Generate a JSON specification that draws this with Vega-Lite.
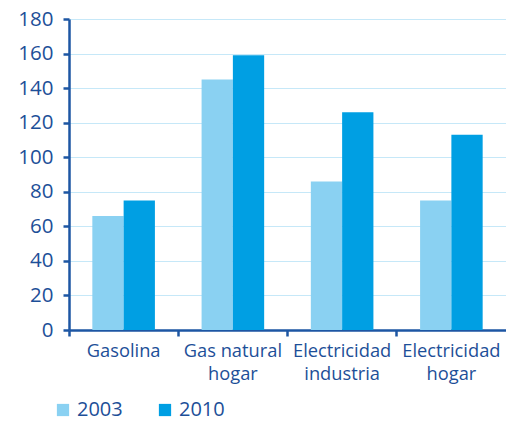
{
  "$schema": "https://vega.github.io/schema/vega-lite/v6.json",
  "width": 437,
  "height": 311,
  "autosize": "none",
  "padding": {"left": 69, "top": 19, "right": 0, "bottom": 93},
  "background": "white",
  "data": {"values": [
    {"categoria": "Gasolina", "año": "2003", "valor": 66},
    {"categoria": "Gasolina", "año": "2010", "valor": 75},
    {"categoria": "Gas natural hogar", "año": "2003", "valor": 145},
    {"categoria": "Gas natural hogar", "año": "2010", "valor": 159},
    {"categoria": "Electricidad industria", "año": "2003", "valor": 86},
    {"categoria": "Electricidad industria", "año": "2010", "valor": 126},
    {"categoria": "Electricidad hogar", "año": "2003", "valor": 75},
    {"categoria": "Electricidad hogar", "año": "2010", "valor": 113}
  ]},
  "mark": {"type": "bar"},
  "encoding": {
    "x": {
      "field": "categoria", "type": "nominal", "sort": null,
      "scale": {"paddingInner": 0, "paddingOuter": 0},
      "axis": {
        "title": null, "labelAngle": 0, "bandPosition": 0,
        "labelExpr": "datum.label == 'Gas natural hogar' ? ['Gas natural','hogar'] : split(datum.label, ' ')",
        "labelFont": "Open Sans", "labelFontSize": 18.3, "labelColor": "#1d4f98",
        "labelLineHeight": 23, "labelPadding": 6,
        "domainColor": "#1d56a3", "domainWidth": 2.5,
        "tickColor": "#1d56a3", "tickWidth": 2.5, "tickSize": 6,
        "grid": false
      }
    },
    "xOffset": {"field": "año", "type": "nominal", "scale": {"paddingOuter": 0.746, "paddingInner": 0}},
    "y": {
      "field": "valor", "type": "quantitative",
      "scale": {"domain": [0, 180]},
      "axis": {
        "title": null, "values": [0,20,40,60,80,100,120,140,160,180],
        "labelFont": "Open Sans", "labelFontSize": 20.5, "labelColor": "#1d4f98",
        "labelPadding": 10,
        "domainColor": "#1d56a3", "domainWidth": 2.5,
        "tickColor": "#1d56a3", "tickWidth": 2.5, "tickSize": 6,
        "grid": true, "gridColor": "#c6e8f8", "gridWidth": 1.2
      }
    },
    "color": {
      "field": "año", "type": "nominal",
      "scale": {"domain": ["2003", "2010"], "range": ["#8ad1f2", "#009fe3"]},
      "legend": {
        "title": null, "orient": "none", "direction": "horizontal",
        "legendX": -16, "legendY": 381,
        "symbolType": "square", "symbolSize": 150, "symbolStrokeWidth": 0,
        "labelFont": "Open Sans", "labelFontSize": 20, "labelColor": "#1d4f98",
        "columnPadding": 32, "labelOffset": 4
      }
    }
  },
  "config": {"view": {"stroke": null}}
}
